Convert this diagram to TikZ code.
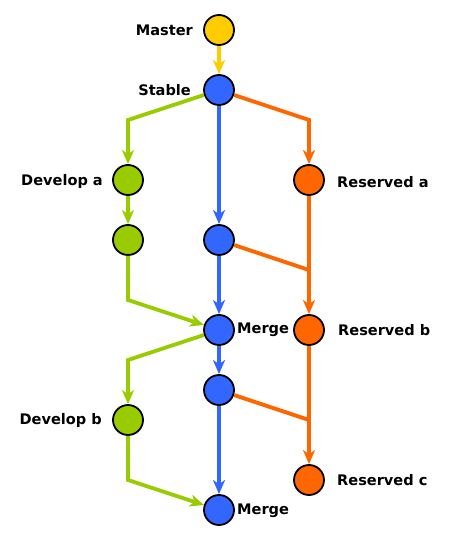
\documentclass[tikz,border=0pt]{standalone}
\usepackage{fontspec}
\setmainfont{DejaVu Sans}
\usetikzlibrary{arrows.meta}
\definecolor{cyel}{HTML}{FFCC00}
\definecolor{cblu}{HTML}{3366FF}
\definecolor{cgrn}{HTML}{99CC00}
\definecolor{cora}{HTML}{FF6600}
\begin{document}
\begin{tikzpicture}[x=1bp,y=-1bp,
  commit/.style={circle,draw=black,line width=1.8bp,minimum size=30bp,inner sep=0pt},
  lbl/.style={font=\fontsize{14.6}{16}\selectfont\bfseries,inner sep=0pt},
  flow/.style={line width=3.8bp,-{Stealth[length=14bp,width=12bp,inset=4bp]}},
  joinline/.style={line width=3.8bp}]
\useasboundingbox (0,0) rectangle (449,540);
% nodes
\node[commit,fill=cyel] (master) at (219,30) {};
\node[commit,fill=cblu] (stable) at (219,90) {};
\node[commit,fill=cgrn] (deva) at (128,180) {};
\node[commit,fill=cora] (resa) at (309,180) {};
\node[commit,fill=cgrn] (deva2) at (128,240) {};
\node[commit,fill=cblu] (b2) at (219,240) {};
\node[commit,fill=cblu] (merge1) at (219,330) {};
\node[commit,fill=cora] (resb) at (309,330) {};
\node[commit,fill=cblu] (b4) at (219,390) {};
\node[commit,fill=cgrn] (devb) at (128,420) {};
\node[commit,fill=cora] (resc) at (309,480) {};
\node[commit,fill=cblu] (merge2) at (219,510) {};
% labels
\node[lbl,anchor=east] (lmaster) at (193,30) {Master};
\node[lbl,anchor=east] (lstable) at (191,90) {Stable};
\node[lbl,anchor=east] (ldeva) at (103,181) {Develop a};
\node[lbl,anchor=west] (lresa) at (337,182) {Reserved a};
\node[lbl,anchor=west] (lmerge1) at (237,330) {Merge};
\node[lbl,anchor=west] (lresb) at (338,330) {Reserved b};
\node[lbl,anchor=east] (ldevb) at (102,420) {Develop b};
\node[lbl,anchor=west] (lresc) at (337,480) {Reserved c};
\node[lbl,anchor=west] (lmerge2) at (237,511) {Merge};
% bend coordinates
\coordinate (g1) at (128,120);
\coordinate (o1) at (309,120);
\coordinate (g2) at (128,300);
\coordinate (j1) at (309,270);
\coordinate (g3) at (128,360);
\coordinate (j2) at (309,420);
\coordinate (g4) at (128,480);
% connectors
\draw[flow,cyel] (master) -- (stable);
\draw[flow,cgrn] (stable) -- (g1) -- (deva);
\draw[flow,cora] (stable) -- (o1) -- (resa);
\draw[flow,cblu] (stable) -- (b2);
\draw[flow,cgrn] (deva) -- (deva2);
\draw[flow,cgrn] (deva2) -- (g2) -- (merge1);
\draw[flow,cblu] (b2) -- (merge1);
\draw[joinline,cora] (b2) -- (j1);
\draw[flow,cora] (resa) -- (resb);
\draw[flow,cblu] (merge1) -- (b4);
\draw[flow,cgrn] (merge1) -- (g3) -- (devb);
\draw[joinline,cora] (b4) -- (j2);
\draw[flow,cora] (resb) -- (resc);
\draw[flow,cblu] (b4) -- (merge2);
\draw[flow,cgrn] (devb) -- (g4) -- (merge2);
\end{tikzpicture}
\end{document}
